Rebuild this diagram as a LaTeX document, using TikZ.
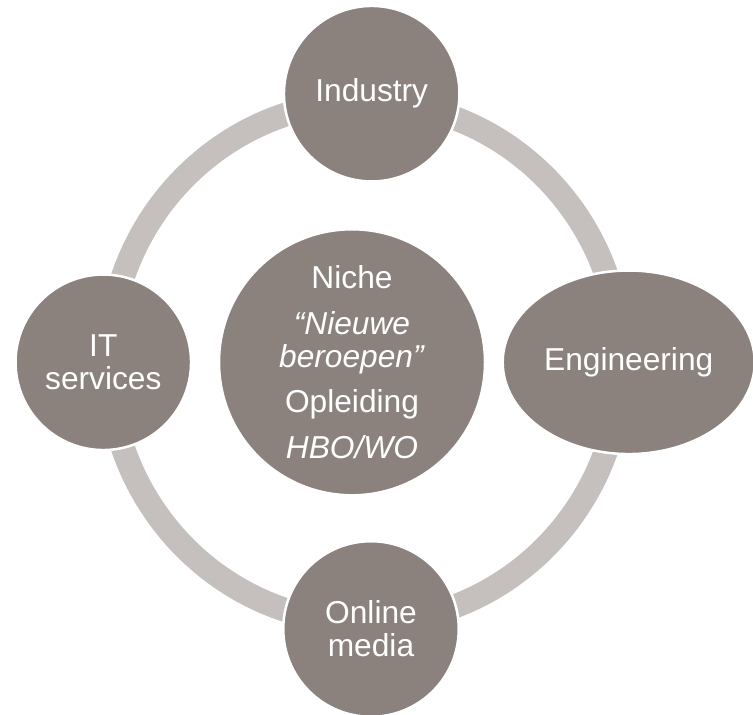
\documentclass[tikz,border=0pt]{standalone}
\usepackage{fontspec}
\setmainfont{Liberation Sans}
\usetikzlibrary{shapes.geometric}
\definecolor{darkstone}{HTML}{8B827E}
\definecolor{lightstone}{HTML}{C5BFBE}
\begin{document}
\begin{tikzpicture}[x=1bp,y=1bp,
  bubble/.style={circle,fill=darkstone,draw=white,line width=2.5bp,inner sep=0pt,outer sep=0pt,
    text=white,align=center,font=\fontsize{31.7bp}{33bp}\selectfont},
  satellite/.style={bubble,minimum size=175.5bp},
  ringline/.style={draw=lightstone,line width=24bp}]
\useasboundingbox (0,0) rectangle (753,715);
\coordinate (ringc) at (365,352.7);
\draw[ringline] (ringc) ellipse [x radius=256.2, y radius=260.5];
\node[bubble,minimum size=266bp] (core) at (352,352.7)
  {Niche\\[13.4bp]\textit{“Nieuwe}\\\textit{beroepen”}\\[11.7bp]Opleiding\\[13.4bp]\textit{HBO/WO}};
\node[satellite] (industry) at (371.7,621.3) {Industry};
\node[satellite] (itserv) at (103.3,352.7) {IT\\services};
\node[satellite] (online) at (371,86) {Online\\media};
\node[bubble,ellipse,minimum width=252bp,minimum height=183.5bp] (eng) at (628.7,352.7) {Engineering};
\end{tikzpicture}
\end{document}
